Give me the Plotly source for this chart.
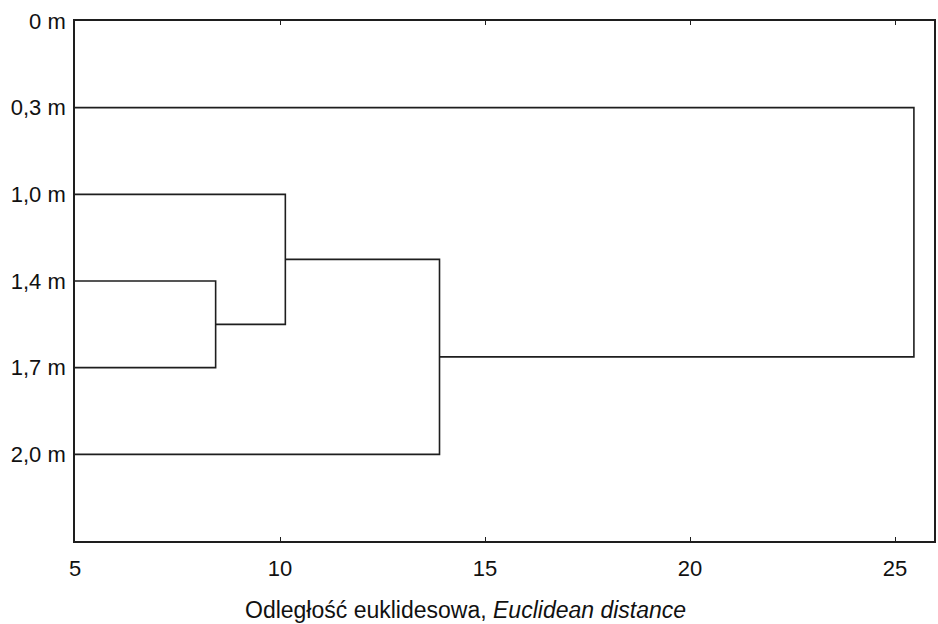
import plotly.graph_objects as go

# Sampling depths (leaves of the dendrogram, top to bottom)
depths = ["0 m", "0,3 m", "1,0 m", "1,4 m", "1,7 m", "2,0 m"]

# Agglomeration schedule: (first member, second member, linkage distance)
# members < 6 are leaves, members >= 6 refer to earlier clusters (6 + step);
# the 0 m sample joins only beyond the plotted distance range
merge_a = [3, 2, 5, 1]
merge_b = [4, 6, 7, 8]
merge_dist = [8.43, 10.13, 13.89, 25.46]

x_ticks = [5, 10, 15, 20, 25]
x_range = [5, 25.95]

LINE = "#1e1e1e"

# Position and height of every node (leaves start at distance 0)
node_y = {i: float(i) for i in range(len(depths))}
node_x = {i: 0.0 for i in range(len(depths))}

fig = go.Figure()
for step, (a, b, d) in enumerate(zip(merge_a, merge_b, merge_dist)):
    xs = [node_x[a], d, d, node_x[b]]
    ys = [node_y[a], node_y[a], node_y[b], node_y[b]]
    fig.add_trace(go.Scatter(
        x=xs, y=ys, mode="lines",
        line=dict(color=LINE, width=1.6),
        hoverinfo="skip", showlegend=False,
    ))
    new = len(depths) + step
    node_y[new] = (node_y[a] + node_y[b]) / 2
    node_x[new] = d

font = dict(family="Liberation Sans, Arial, sans-serif", color="#111111")
FS = 22

fig.update_layout(
    width=938, height=624,
    margin=dict(l=75, r=2, t=21, b=83),
    paper_bgcolor="white", plot_bgcolor="white",
    font=dict(size=FS, **font),
    xaxis=dict(
        range=x_range, tickvals=x_ticks, ticktext=[str(v) for v in x_ticks],
        showgrid=False, zeroline=False,
        showline=True, mirror="ticks", linecolor=LINE, linewidth=1.6,
        ticks="inside", ticklen=4, tickcolor=LINE, tickwidth=1,
        tickfont=dict(size=FS), ticklabelstandoff=7,
    ),
    yaxis=dict(
        range=[6, 0], tickvals=list(range(len(depths))), ticktext=depths,
        showgrid=False, zeroline=False,
        showline=True, mirror=True, linecolor=LINE, linewidth=1.6,
        ticks="", tickfont=dict(size=FS), ticklabelstandoff=3,
    ),
    annotations=[dict(
        text="Odległość euklidesowa, <i>Euclidean distance</i>",
        xref="paper", yref="paper", x=0.455, y=-0.133,
        xanchor="center", yanchor="middle", showarrow=False,
        font=dict(size=23),
    )],
)

fig.write_html("out.html")
